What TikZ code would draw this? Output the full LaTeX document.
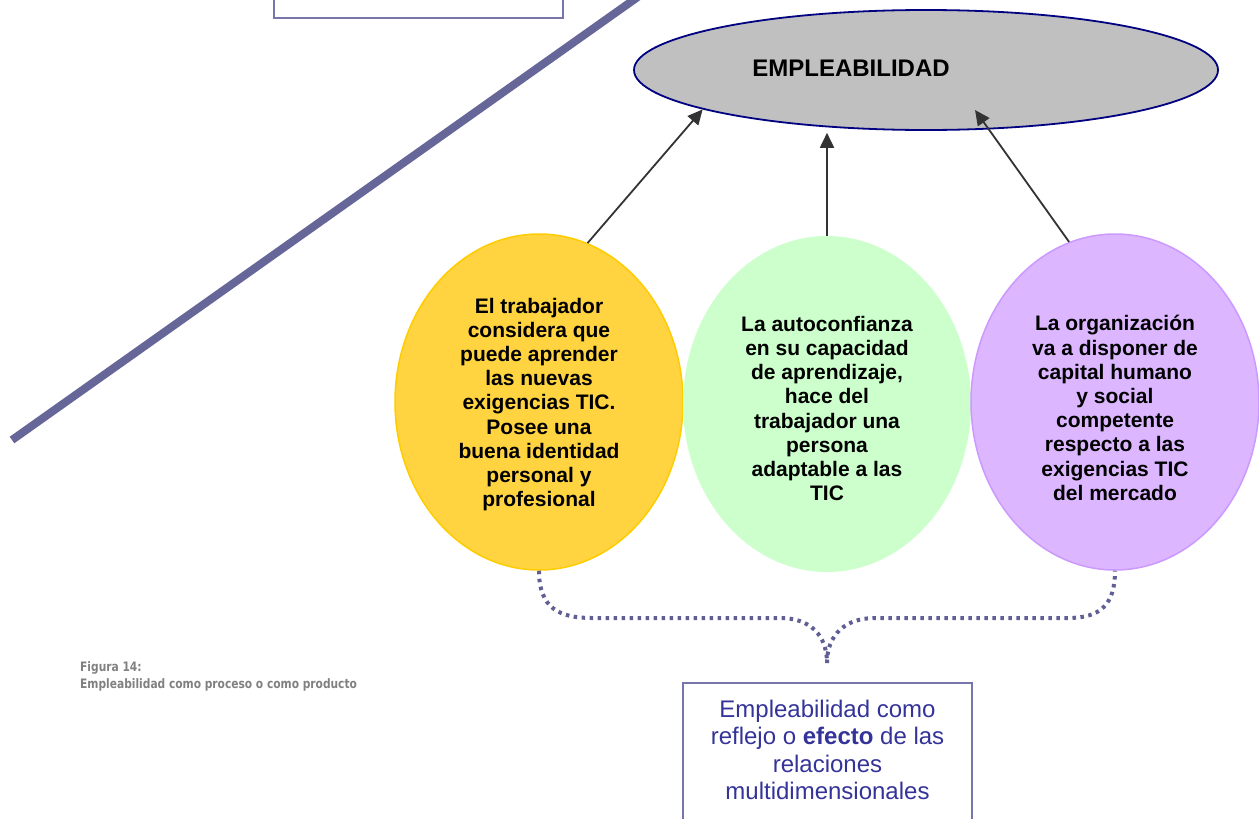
\documentclass[tikz,border=0pt]{standalone}
\usepackage{fontspec}
\setmainfont{Liberation Sans}
\newfontfamily\capfont[FakeStretch=0.82]{DejaVu Sans}
\usetikzlibrary{shapes.geometric,arrows.meta,calc}
\definecolor{slate}{RGB}{102,102,153}
\definecolor{boxline}{RGB}{118,118,170}
\definecolor{navyline}{RGB}{0,0,128}
\definecolor{empfill}{RGB}{192,192,192}
\definecolor{yelfill}{RGB}{255,212,64}
\definecolor{yelline}{RGB}{255,204,0}
\definecolor{grnfill}{RGB}{204,255,204}
\definecolor{purfill}{RGB}{220,182,255}
\definecolor{purline}{RGB}{204,153,255}
\definecolor{textblue}{RGB}{51,51,153}
\definecolor{capgray}{RGB}{128,128,128}
\definecolor{arrowgray}{RGB}{51,51,51}
\definecolor{dotline}{RGB}{95,95,148}
\tikzset{
  bubble/.style={ellipse, inner sep=0pt, minimum width=288pt, minimum height=336pt,
    align=center, font=\fontsize{21}{24.2}\selectfont\bfseries},
  arr/.style={draw=arrowgray, line width=1.8pt, -{Triangle[length=15pt,width=14pt]}},
  dotted brace/.style={draw=dotline, line width=4pt, dash pattern=on 3.5pt off 4.5pt},
  plainbox/.style={draw=boxline, line width=1.6pt, rectangle, inner sep=0pt}
}
\begin{document}
\begin{tikzpicture}[x=1pt,y=-1pt]
\useasboundingbox (0,0) rectangle (1259,819);
% top-left box (cut off)
\node[plainbox, minimum width=289pt, minimum height=40pt] (topbox) at (418.5,-2) {};
% diagonal bar
\coordinate (diaglo) at (12,440);
\coordinate (diaghi) at (642,-6);
\draw[slate, line width=8pt] (diaglo) -- (diaghi);
% empleabilidad ellipse
\node[ellipse, draw=navyline, line width=1.8pt, fill=empfill, inner sep=0pt,
  minimum width=584pt, minimum height=120pt,
  font=\fontsize{24}{26}\selectfont\bfseries] (emp) at (926,70)
  {\raisebox{3pt}{EMPLEABILIDAD}\kern150pt};
% bubbles
\node[bubble, fill=yelfill, draw=yelline, line width=1.5pt] (yel) at (539,402)
  {\mbox{}\\[-4pt]El trabajador\\considera que\\puede aprender\\las nuevas\\exigencias TIC.\\Posee una\\buena identidad\\personal y\\profesional};
\node[bubble, fill=grnfill] (grn) at (827,404)
  {\mbox{}\\La autoconfianza\\en su capacidad\\de aprendizaje,\\hace del\\trabajador una\\persona\\adaptable a las\\TIC};
\node[bubble, fill=purfill, draw=purline, line width=1.5pt] (pur) at (1115,402)
  {\mbox{}\\[3pt]La organización\\va a disponer de\\capital humano\\y social\\competente\\respecto a las\\exigencias TIC\\del mercado};
% arrows
\draw[arr] (yel.73) -- (emp.190);
\draw[arr] (grn.north) -- ++(0,-103);
\draw[arr] (pur.106) -- ($(emp.center)+(49,40)$);
% dotted brace
\coordinate (tip) at (827,663);
\draw[dotted brace] (yel.south) .. controls ++(0,38) and (560,618) .. (592,618)
  -- (780,618) .. controls (810,618) and (827,635) .. (tip);
\draw[dotted brace] (tip) .. controls (827,635) and (845,618) .. (875,618)
  -- (1068,618) .. controls (1100,618) and (1115,605) .. (pur.south);
% bottom box
\node[plainbox, anchor=north, minimum width=289pt, minimum height=165pt,
  align=center, text=textblue, font=\fontsize{24}{27.5}\selectfont] (effbox) at (827.5,682)
  {Empleabilidad como\\reflejo o \textbf{efecto} de las\\relaciones\\multidimensionales\\[4pt]\mbox{}};
% caption
\node[anchor=north west, align=left, inner sep=0pt, text=capgray,
  font=\capfont\fontsize{13}{17}\selectfont\bfseries] (cap) at (80,661)
  {Figura 14:\\Empleabilidad como proceso o como producto};
\end{tikzpicture}
\end{document}
